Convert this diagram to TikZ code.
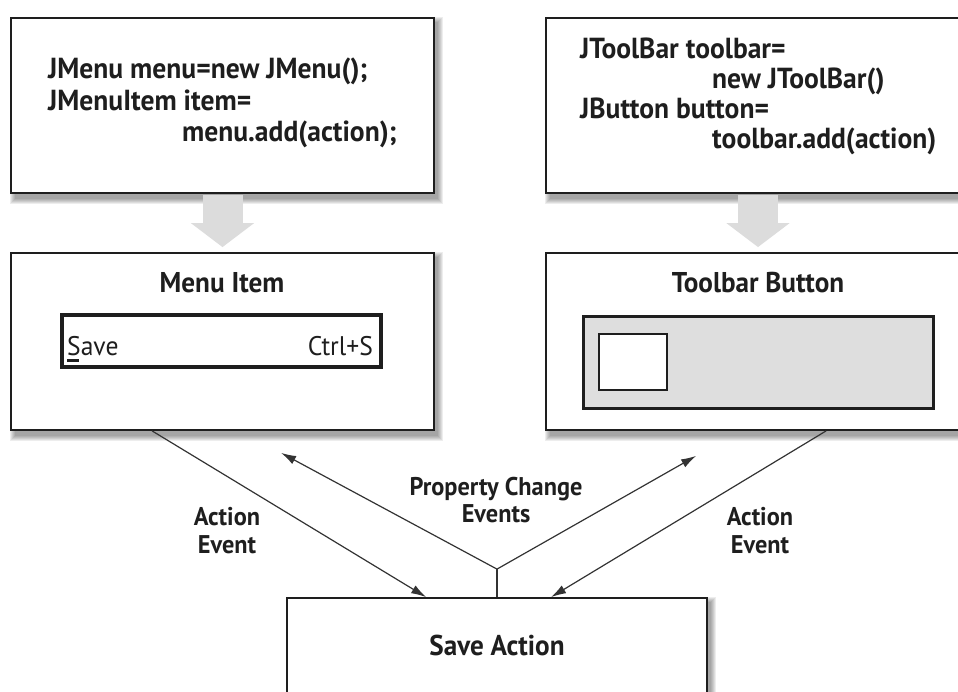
\documentclass[tikz,border=0pt]{standalone}
\usepackage{fontspec}
\setmainfont{PT Sans}[FakeStretch=0.95]
\usetikzlibrary{arrows.meta,calc}
\pgfdeclarelayer{background}
\pgfsetlayers{background,main}
\definecolor{ink}{HTML}{1E1E1E}
\definecolor{edgec}{HTML}{333333}
\definecolor{fatgray}{HTML}{DCDCDC}
\definecolor{btngray}{HTML}{DEDEDE}
\tikzset{
  box/.style={rectangle, draw=ink, line width=1.8pt, fill=white, inner sep=0pt},
  codeline/.style={anchor=base west, inner sep=0pt, text=ink, font=\fontsize{29}{31}\selectfont\bfseries},
  title/.style={anchor=base, inner sep=0pt, text=ink, font=\fontsize{28.6}{30}\selectfont\bfseries},
  lbl/.style={anchor=base, inner sep=0pt, text=ink, font=\fontsize{25.6}{28}\selectfont\bfseries},
  plaintext/.style={inner sep=0pt, text=ink, font=\fontsize{26.9}{28}\selectfont},
  flow/.style={draw=edgec, line width=1.2pt, -{Latex[length=15pt,width=9pt]}},
  flowline/.style={draw=edgec, line width=1.2pt},
  fat/.style={draw=fatgray, line width=40pt, -{Triangle[length=24pt,width=62pt]}},
}
\begin{document}
\begin{tikzpicture}[x=1pt,y=-1pt]
\useasboundingbox (0,0) rectangle (958,691);
% boxes
\node[box, minimum width=423pt, minimum height=175pt] (b1) at (222.5,105.5) {};
\node[box, minimum width=430pt, minimum height=175pt] (b2) at (761,105.5) {};
\node[box, minimum width=423pt, minimum height=177pt] (b3) at (222.5,341.5) {};
\node[box, minimum width=430pt, minimum height=177pt] (b4) at (761,341.5) {};
\node[box, minimum width=420pt, minimum height=130pt] (b5) at (497,663) {};
% shadows
\begin{pgfonlayer}{background}
\foreach \n in {b1,b2,b3,b4,b5}{
  \foreach \d in {0,...,5}{
    \pgfmathsetmacro\ex{8-\d}
    \pgfmathsetmacro\ey{10-\d}
    \fill[black, opacity=0.07] ([xshift=\d pt, yshift=-\d pt]\n.north west) rectangle ([xshift=\ex pt, yshift=-\ey pt]\n.south east);
  }
}
\end{pgfonlayer}
% code
\node[codeline] (c1) at (48,78) {JMenu menu=new JMenu();};
\node[codeline] (c2) at (48,110) {JMenuItem item=};
\node[codeline] (c3) at (182,141) {menu.add(action);};
\node[codeline] (d1) at (580,58) {JToolBar toolbar=};
\node[codeline] (d2) at (712,88) {new JToolBar()};
\node[codeline] (d3) at (580,118) {JButton button=};
\node[codeline] (d4) at (712,148) {toolbar.add(action)};
% fat arrows
\draw[fat, shorten <=1pt, shorten >=5pt] (b1.south) -- (b3.north);
\draw[fat, shorten <=1pt, shorten >=5pt] ([xshift=-3pt]b2.south) -- ([xshift=-3pt]b4.north);
% titles
\node[title] (t3) at (222,292) {Menu Item};
\node[title] (t4) at (758,292) {Toolbar Button};
\node[title] (t5) at (497,655) {Save Action};
% menu item
\node[rectangle, draw=ink, line width=3.2pt, fill=white, minimum width=319pt, minimum height=52pt, inner sep=0pt] (mi) at (221.5,341) {};
\node[plaintext, anchor=base west] (sv) at (67,355) {Save};
\node[plaintext, anchor=base east] (cs) at (373,355) {Ctrl+S};
\draw[ink, line width=2.5pt] ([yshift=-5.5pt]sv.base west) -- ++(12,0);
% toolbar
\node[rectangle, draw=ink, line width=3.0pt, fill=btngray, minimum width=350pt, minimum height=92pt, inner sep=0pt] (tb) at (758,362) {};
\node[rectangle, draw=ink, line width=2.6pt, fill=white, minimum width=68pt, minimum height=56pt, inner sep=0pt] (sq) at (633,362) {};
% connectors
\coordinate (j) at ([yshift=28pt]b5.north);
\coordinate (pl) at ([xshift=271pt,yshift=-22pt]b3.south west);
\coordinate (pr) at ([xshift=151pt,yshift=-25pt]b4.south west);
\draw[flow] ([xshift=142pt]b3.south west) -- ([xshift=140pt]b5.north west);
\draw[flow] ([xshift=281pt]b4.south west) -- ([xshift=265pt]b5.north west);
\draw[flowline] (b5.north) -- (j);
\draw[flow] (j) -- (pl);
\draw[flow] (j) -- (pr);
% labels
\node[lbl] (a1) at (227,525) {Action};
\node[lbl] (a2) at (227,553) {Event};
\node[lbl] (r1) at (760,525) {Action};
\node[lbl] (r2) at (760,553) {Event};
\node[lbl] (p1) at (496,495) {Property Change};
\node[lbl] (p2) at (496,522) {Events};
\end{tikzpicture}
\end{document}
